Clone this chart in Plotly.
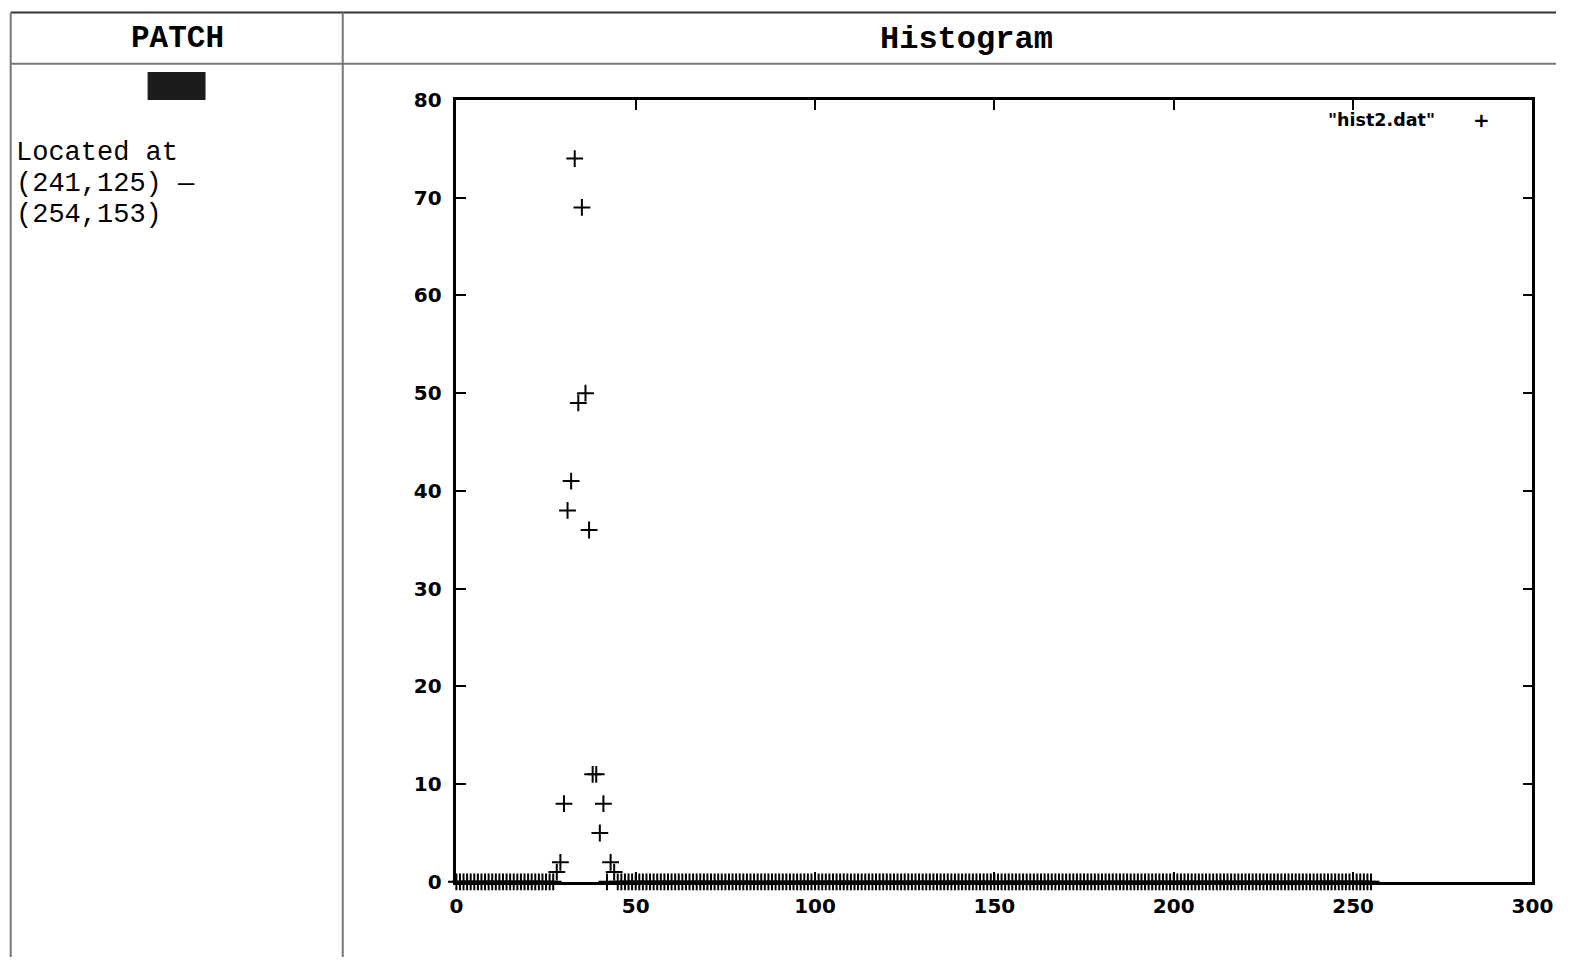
import plotly.graph_objects as go

W, H = 1577, 969
# measured mapping from figure pixels to the final photograph (shot = T + S * fig)
TX, SX = 6.3, 0.983
TY, SY = 11.0, 0.9765

# ---- data (histogram of hist2.dat: grey levels of a 14x29 patch) ----
nonzero_x = [28, 29, 30, 31, 32, 33, 34, 35, 36, 37, 38, 39, 40, 41, 43, 44]
nonzero_y = [1, 2, 8, 38, 41, 74, 49, 69, 50, 36, 11, 11, 5, 8, 2, 1]
x_vals = list(range(0, 256))
y_vals = [0] * 256
for xv, yv in zip(nonzero_x, nonzero_y):
    y_vals[xv] = yv

x_ticks = [0, 50, 100, 150, 200, 250, 300]
y_ticks = [0, 10, 20, 30, 40, 50, 60, 70, 80]
series_name = '"hist2.dat"'
header_left = "PATCH"
header_right = "Histogram"
body_lines = ["Located at", "(241,125) \u2014", "(254,153)"]


def fx(x):
    return (x - TX) / SX


def px(x):
    return min(max(fx(x) / W, 0.0), 1.0)


def py(y):
    f = (y - TY) / SY
    return min(max(1 - f / H, 0.0), 1.0)


# keep the right end of the plot far enough from the page edge so "300" stays visible
x_right = min(px(1541), 1553 / W)

fig = go.Figure()
fig.add_trace(go.Scatter(
    x=x_vals, y=y_vals, mode="markers", name=series_name,
    marker=dict(symbol="cross-thin", size=12, line=dict(width=2, color="black"), color="black"),
    cliponaxis=False, showlegend=False,
))

tickfont = dict(family="DejaVu Sans", size=20, color="black", weight="bold")

fig.update_layout(
    width=W, height=H,
    margin=dict(l=0, r=0, t=0, b=0),
    paper_bgcolor="white", plot_bgcolor="white",
    xaxis=dict(domain=[px(456), x_right], range=[0, 300], tickvals=x_ticks,
               showgrid=False, zeroline=False, showline=True, linecolor="black", linewidth=2.5,
               mirror="ticks", ticks="inside", ticklen=10, tickwidth=2, tickcolor="black",
               tickfont=tickfont, ticklabelstandoff=4),
    yaxis=dict(domain=[py(882), py(99)], range=[0, 80], tickvals=y_ticks,
               showgrid=False, zeroline=False, showline=True, linecolor="black", linewidth=2.5,
               mirror="ticks", ticks="inside", ticklen=10, tickwidth=2, tickcolor="black",
               tickfont=tickfont, ticklabelstandoff=8),
)

border = "#777777"
shapes = [
    # table lines
    dict(type="line", xref="paper", yref="paper", x0=px(10), x1=1, y0=py(11.5), y1=py(11.5),
         line=dict(color="#333333", width=2)),
    dict(type="line", xref="paper", yref="paper", x0=px(10), x1=1, y0=py(62.7), y1=py(62.7),
         line=dict(color=border, width=2)),
    dict(type="line", xref="paper", yref="paper", x0=px(10), x1=px(10), y0=py(11.5), y1=0,
         line=dict(color=border, width=2)),
    dict(type="line", xref="paper", yref="paper", x0=px(342.3), x1=px(342.3), y0=py(11.5), y1=0,
         line=dict(color=border, width=2)),
    # patch image
    dict(type="rect", xref="paper", yref="paper", x0=px(147), x1=px(205), y0=py(99), y1=py(71),
         fillcolor="#1c1c1c", line=dict(width=0)),
]
fig.update_layout(shapes=shapes)

mono = "Liberation Mono"
ann = [
    dict(text=f"<b>{header_left}</b>", x=px(176.5), y=py(37.3), xref="paper", yref="paper",
         showarrow=False, xanchor="center", yanchor="middle",
         font=dict(family=mono, size=31, color="black")),
    dict(text=f"<b>{header_right}</b>", x=px(966.5), y=py(38.8), xref="paper", yref="paper",
         showarrow=False, xanchor="center", yanchor="middle",
         font=dict(family=mono, size=32, color="black")),
    dict(text=series_name, x=px(1437), y=py(119.2), xref="paper", yref="paper",
         showarrow=False, xanchor="right", yanchor="middle",
         font=dict(family="DejaVu Sans", size=17.5, color="black", weight="bold")),
    dict(text="+", x=px(1482), y=py(119.2), xref="paper", yref="paper",
         showarrow=False, xanchor="center", yanchor="middle",
         font=dict(family="DejaVu Sans", size=20, color="black", weight="bold")),
]
for i, line in enumerate(body_lines):
    ann.append(dict(text=line, x=px(13), y=py(152 + 31 * i), xref="paper", yref="paper",
                    showarrow=False, xanchor="left", yanchor="middle",
                    font=dict(family=mono, size=27, color="black")))
fig.update_layout(annotations=ann)

fig.write_html("out.html", config={"displayModeBar": False},
               post_script="document.body.style.margin='0';document.body.style.overflow='hidden';")
